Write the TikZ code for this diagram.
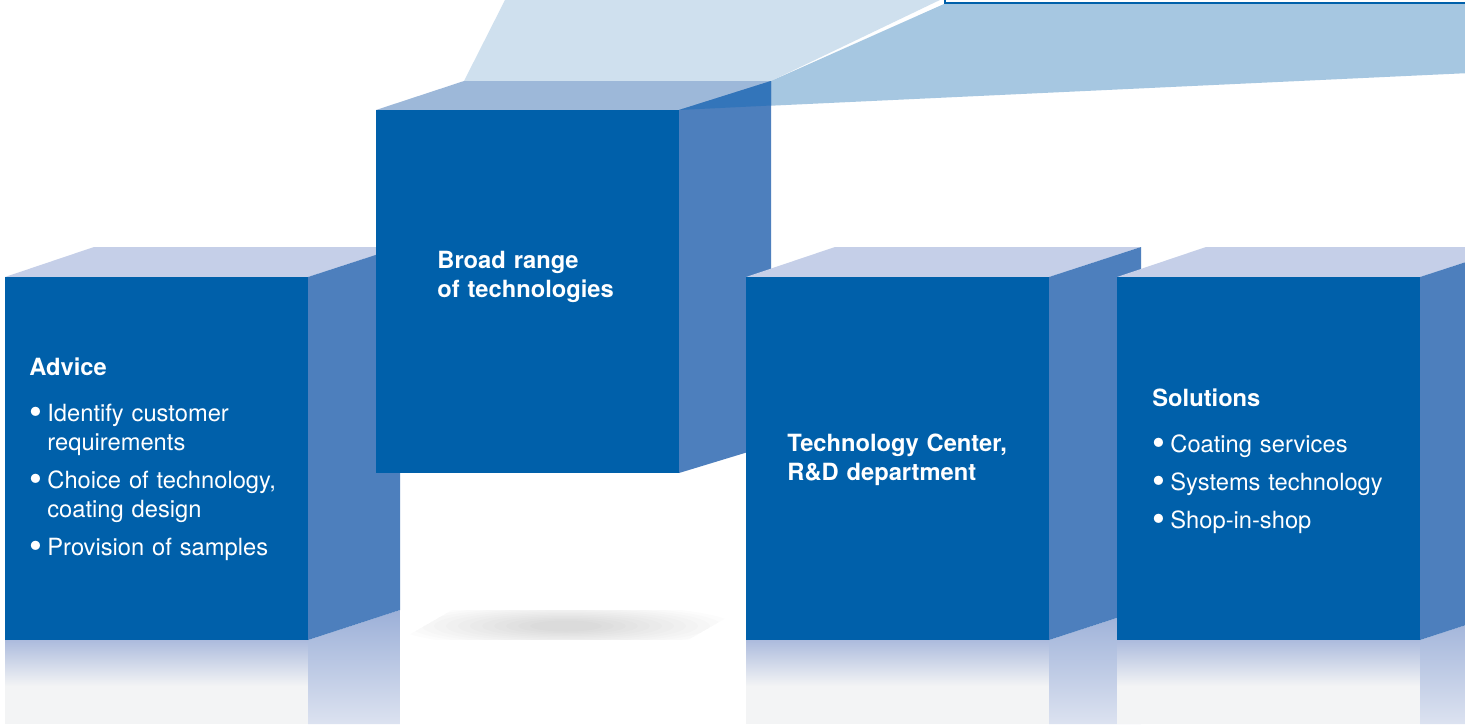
\documentclass[tikz,border=0pt]{standalone}
\usepackage{fontspec}
\setmainfont{TeX Gyre Heros}
\setlength{\parindent}{0pt}

\definecolor{cubefront}{RGB}{0,96,170}
\definecolor{cubeside}{RGB}{77,127,189}
\definecolor{cubelid}{RGB}{197,207,232}
\definecolor{techlid}{RGB}{157,184,217}
\definecolor{beamlight}{RGB}{207,224,238}
\definecolor{beamdark}{RGB}{166,199,225}
\definecolor{beamside}{RGB}{51,117,186}
\definecolor{reffront}{RGB}{172,187,221}
\definecolor{refpale}{RGB}{243,244,245}
\definecolor{refside}{RGB}{156,176,216}
\definecolor{refsidepale}{RGB}{220,226,240}

\tikzset{
  frontface/.style={fill=cubefront},
  sideface/.style={fill=cubeside},
  lidface/.style={fill=cubelid},
  boxtext/.style={anchor=base west, inner sep=0pt, text=white, text width=#1,
    font=\fontsize{11.85pt}{14.5pt}\selectfont},
  boxtext/.default=160pt
}

\newcommand{\bitem}[1]{\par\vspace{4.5pt}\noindent\hangindent=9pt\hangafter=1%
  \makebox[9pt][l]{\raisebox{-0.14em}{\scalebox{1.55}{\textbullet}}}#1}

% one low cube with its mirror image, front face from x=#1
\newcommand{\lowcube}[1]{%
  \shade[top color=reffront, bottom color=refpale] (#1,640) rectangle (#1+303,686);
  \fill[refpale] (#1,686) rectangle (#1+303,724);
  \shade[top color=refside, bottom color=refsidepale] (#1+303,640) -- (#1+395,610) -- (#1+395,724) -- (#1+303,724) -- cycle;
  \fill[lidface] (#1,277) -- (#1+89,247) -- (#1+395,247) -- (#1+303,277) -- cycle;
  \fill[sideface] (#1+303,277) -- (#1+395,247) -- (#1+395,610) -- (#1+303,640) -- cycle;
  \fill[frontface] (#1,277) rectangle (#1+303,640);
}

\begin{document}
\begin{tikzpicture}[x=0.5pt, y=-0.5pt]
  \useasboundingbox (0,0) rectangle (1465,724);
  \clip (0,0) rectangle (1465,724);
  \fill[white] (0,0) rectangle (1465,724);

  % light beam to the frame above
  \fill[beamlight] (464,81) -- (506,-2) -- (944,-2) -- (771,81) -- cycle;
  \fill[beamdark] (679,110) -- (771,81) -- (944,4) -- (1470,4) -- (1470,73) -- cycle;
  \draw[cubefront, line width=1pt, fill=white] (945,-20) rectangle (1480,3);

  \lowcube{5}

  % soft shadow under the raised cube
  \begin{scope}
    \clip (452,610) -- (740,610) -- (688,640) -- (400,640) -- cycle;
    \foreach \i in {0,...,11}
      \fill[black, opacity=0.012] (566,626) ellipse ({168-12*\i} and {22-1.5*\i});
  \end{scope}

  % raised cube
  \fill[fill=techlid] (376,110) -- (464,81) -- (771,81) -- (679,110) -- cycle;
  \fill[sideface] (679,110) -- (771,81) -- (771,445) -- (679,473) -- cycle;
  \fill[beamside] (679,110) -- (771,81) -- (771,105.5) -- cycle;
  \fill[frontface] (376,110) rectangle (679,473);

  \lowcube{746}
  \lowcube{1117}

  \node (advice) [boxtext] at (29,375) {\textbf{Advice}\par\vspace{4pt}
    \bitem{Identify customer\newline requirements}
    \bitem{Choice of technology,\newline coating design}
    \bitem{Provision of samples}};
  \node (range) [boxtext] at (437,268) {\textbf{Broad range\newline of technologies}};
  \node (center) [boxtext] at (787,451.7) {\textbf{Technology Center,\newline R\&D department}};
  \node (solutions) [boxtext] at (1152,406) {\textbf{Solutions}\par\vspace{4pt}
    \bitem{Coating services}
    \bitem{Systems technology}
    \bitem{Shop-in-shop}};
\end{tikzpicture}
\end{document}
